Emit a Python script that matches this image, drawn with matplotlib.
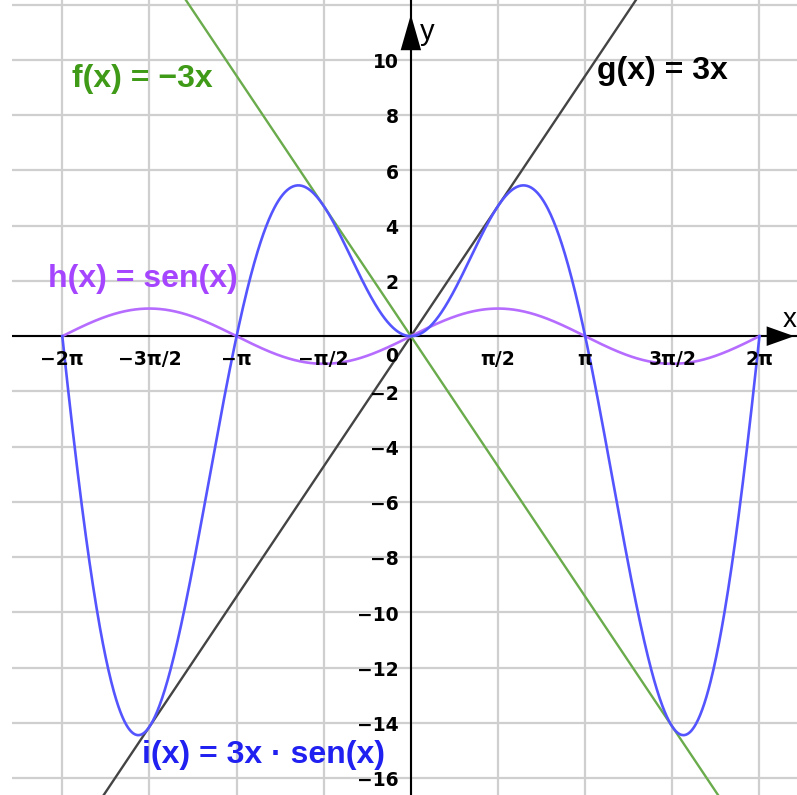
import numpy as np
import matplotlib.pyplot as plt

# functions shown in the chart (sampled on the plotted domain)
x_min_fn, x_max_fn = -2 * np.pi, 2 * np.pi
slope_f = -3
slope_g = 3
amp_i = 3

x_ticks = [-2 * np.pi, -3 * np.pi / 2, -np.pi, -np.pi / 2, np.pi / 2, np.pi, 3 * np.pi / 2, 2 * np.pi]
x_tick_labels = ['−2π', '−3π/2', '−π', '−π/2', 'π/2', 'π', '3π/2', '2π']
y_ticks = [10, 8, 6, 4, 2, -2, -4, -6, -8, -10, -12, -14, -16]
y_grid = np.arange(-16, 13, 2)

label_f = 'f(x) = −3x'
label_g = 'g(x) = 3x'
label_h = 'h(x) = sen(x)'
label_i = 'i(x) = 3x · sen(x)'

xlim = (-7.19, 6.96)
ylim = (-16.61, 12.17)

fig = plt.figure(figsize=(7.97, 7.95), dpi=100)
ax = fig.add_axes([12 / 797, 0, 785 / 797, 1])
ax.set_xlim(*xlim)
ax.set_ylim(*ylim)
ax.axis('off')

# grid
for xv in [-2 * np.pi + k * np.pi / 2 for k in range(9)]:
    ax.axvline(xv, color='#cfcfcf', lw=1.6, zorder=0)
for yv in y_grid:
    ax.axhline(yv, color='#cfcfcf', lw=1.6, zorder=0)

# axes with arrows
ax.axhline(0, color='black', lw=1.5, zorder=1)
ax.axvline(0, color='black', lw=1.5, zorder=1)
ax.annotate('', xy=(xlim[1], 0), xytext=(xlim[1] - 0.8, 0),
            arrowprops=dict(arrowstyle='-|>,head_length=0.62,head_width=0.22',
                            color='black', lw=0, mutation_scale=32), zorder=5)
ax.annotate('', xy=(0, 11.74), xytext=(0, 9.5),
            arrowprops=dict(arrowstyle='-|>,head_length=0.8,head_width=0.23',
                            color='black', lw=0, mutation_scale=32), zorder=5)
ax.text(6.71, 0.33, 'x', fontsize=20, family='Liberation Sans', ha='left', va='baseline')
ax.text(0.16, 10.5, 'y', fontsize=21, family='Liberation Sans', ha='left', va='bottom')

# curves
xl = np.linspace(xlim[0], xlim[1], 10)
ax.plot(xl, slope_f * xl, color='#6aab4c', lw=1.7, zorder=2)
ax.plot(xl, slope_g * xl, color='#444444', lw=1.7, zorder=2)
xs = np.linspace(x_min_fn, x_max_fn, 1000)
ax.plot(xs, np.sin(xs), color='#b56cff', lw=1.9, zorder=3)
ax.plot(xs, amp_i * xs * np.sin(xs), color='#5555ff', lw=1.9, zorder=3)

# tick labels
tick_font = dict(family='DejaVu Sans', fontweight='bold', fontsize=13.5, color='black')
for xv, lab in zip(x_ticks, x_tick_labels):
    ax.text(xv, -0.85, lab, ha='center', va='center', **tick_font)
ax.text(-0.23, -0.75, '0', ha='right', va='center', **tick_font)
for yv in y_ticks:
    ax.text(-0.22, yv - 0.1, f'{yv}'.replace('-', '−'), ha='right', va='center', **tick_font)

# function labels
lab_font = dict(family='Liberation Sans', fontweight='bold', fontsize=23)
ax.text(-6.10, 9.3, label_f, color='#3f9a17', ha='left', va='center', **lab_font)
ax.text(3.36, 9.6, label_g, color='black', ha='left', va='center', **lab_font)
ax.text(-6.55, 2.07, label_h, color='#a545ff', ha='left', va='center', **lab_font)
ax.text(-4.85, -15.15, label_i, color='#2020f0', ha='left', va='center', **lab_font)

fig.savefig('out.png', dpi=100)
